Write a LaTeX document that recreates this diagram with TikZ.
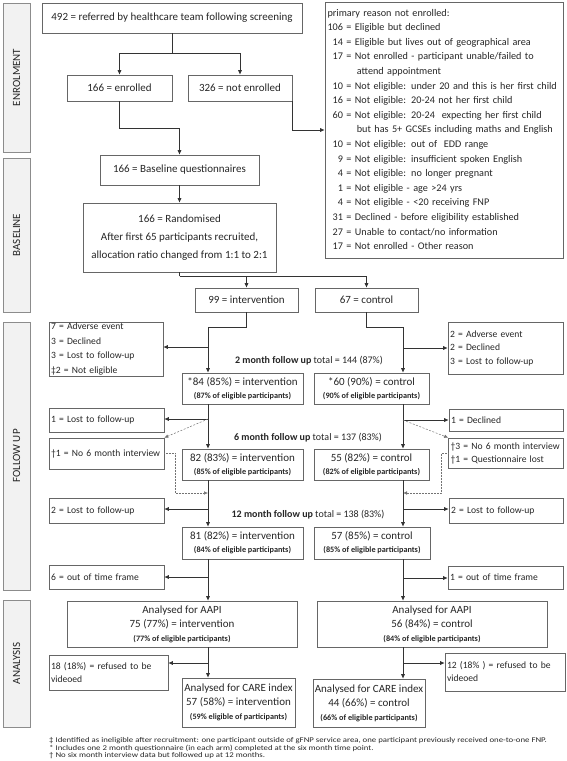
\documentclass[tikz,border=0pt]{standalone}
\usepackage{fontspec}
\setmainfont{Carlito}
\newfontfamily\notefont[FakeStretch=1.2]{Carlito}
\usetikzlibrary{arrows.meta}

\newcommand{\elig}[1]{{\fontsize{8.2}{9}\selectfont\bfseries #1}}

\begin{document}
\begin{tikzpicture}[
  x=1pt, y=-1pt,
  every node/.style = {font=\fontsize{11}{14.6}\selectfont, text=black!85, inner sep=2pt},
  box/.style = {draw=black!60, line width=0.6pt, align=center},
  lbox/.style = {box, align=left, inner xsep=2pt, inner ysep=1pt, font=\fontsize{9.6}{14}\selectfont},
  pair/.style = {box, font=\fontsize{11}{13}\selectfont},
  trio/.style = {box, font=\fontsize{11}{14}\selectfont},
  side/.style = {draw=black!45, fill=black!5, line width=0.6pt, rotate=90, minimum height=27, inner sep=0pt, font=\fontsize{11}{12}\selectfont},
  stage/.style = {font=\fontsize{10}{11}\selectfont},
  note/.style = {anchor=west, inner sep=0pt, font=\notefont\fontsize{7.3}{7.5}\selectfont},
  plain/.style = {draw=black!80, line width=0.6pt},
  link/.style = {plain, -{Latex[length=4.5pt,width=4pt]}},
  gone/.style = {draw=black!55, line width=0.5pt, dash pattern=on 2pt off 1.5pt, -{Latex[length=4pt,width=3.5pt]}},
  late/.style = {draw=black!55, line width=0.5pt, densely dotted, -{Latex[length=4pt,width=3.5pt]}}
]
  \useasboundingbox (0,0) rectangle (567,761);

  % stages
  \node[side, minimum width=149] (enrolS) at (16.5,77.5) {ENROLMENT};
  \node[side, minimum width=154] (baseS) at (16.5,235) {BASELINE};
  \node[side, minimum width=268] (fuS) at (16.5,456) {FOLLOW UP};
  \node[side, minimum width=127] (anS) at (16.5,663.5) {ANALYSIS};

  % enrolment
  \node[box, minimum width=260, minimum height=30] (refer) at (172,18) {492 = referred by healthcare team following screening};
  \node[box, minimum width=105, minimum height=26] (enrol) at (119.5,88) {166 = enrolled};
  \node[box, minimum width=104, minimum height=26] (notenrol) at (240,88) {326 = not enrolled};
  \node[box, align=left, font=\fontsize{10.2}{14.6}\selectfont, text width=233, minimum height=256, inner xsep=2.5pt] (reasons) at (444,130) {%
    \begin{tabular}{@{}r@{ }c@{ }l@{}}
      \multicolumn{3}{@{}l@{}}{primary reason not enrolled:}\\
      106 & = & Eligible but declined\\
      14 & = & Eligible but lives out of geographical area\\
      17 & = & Not enrolled - participant unable/failed to\\
         &   & \hspace{2pt}attend appointment\\
      10 & = & Not eligible: under 20 and this is her first child\\
      16 & = & Not eligible: 20-24 not her first child\\
      60 & = & Not eligible: 20-24 \ expecting her first child\\
         &   & \hspace{2pt}but has 5+ GCSEs including maths and English\\
      10 & = & Not eligible: out of \ EDD range\\
      9 & = & Not eligible: insufficient spoken English\\
      4 & = & Not eligible: no longer pregnant\\
      1 & = & Not eligible - age >24 yrs\\
      4 & = & Not eligible - <20 receiving FNP\\
      31 & = & Declined - before eligibility established\\
      27 & = & Unable to contact/no information\\
      17 & = & Not enrolled - Other reason
    \end{tabular}};

  % baseline
  \node[box, minimum width=159, minimum height=30] (baseline) at (179.5,170) {166 = Baseline questionnaires};
  \node[box, font=\fontsize{11}{18}\selectfont, minimum width=193, minimum height=69] (random) at (179.5,237.5) {166 = Randomised\\After first 65 participants recruited,\\allocation ratio changed from 1:1 to 2:1};
  \node[box, minimum width=103, minimum height=24] (interv) at (246.5,300) {99 = intervention};
  \node[box, minimum width=103, minimum height=24] (control) at (366.5,300) {67 = control};

  % follow up
  \node[lbox, font=\fontsize{9.6}{14.5}\selectfont, text width=110, minimum height=54] (fu2L) at (106,349) {7 = Adverse event\\3 = Declined\\3 = Lost to follow-up\\\textdaggerdbl 2 = Not eligible};
  \node[lbox, font=\fontsize{9.6}{13.5}\selectfont, text width=111, minimum height=52] (fu2R) at (505.5,348) {2 = Adverse event\\2 = Declined\\3 = Lost to follow-up};
  \node[stage] (m2) at (309,361) {\textbf{2 month follow up} total = 144 (87\%)};
  \node[pair, minimum width=121, minimum height=31] (int2) at (242.5,388.5) {*84 (85\%) = intervention\\\elig{(87\% of eligible participants)}};
  \node[pair, minimum width=115, minimum height=31] (con2) at (371.5,388.5) {*60 (90\%) = control\\\elig{(90\% of eligible participants)}};

  \node[lbox, text width=111, minimum height=24] (lost6L) at (106.5,420) {1 = Lost to follow-up};
  \node[lbox, text width=111, minimum height=31] (miss6L) at (106.5,453.5) {\textdagger 1 = No 6 month interview};
  \node[lbox, text width=110, minimum height=22] (dec6R) at (506,420) {1 = Declined};
  \node[lbox, font=\fontsize{9.6}{13}\selectfont, text width=111, minimum height=30] (miss6R) at (506,453) {\textdagger 3 = No 6 month interview\\\textdagger 1 = Questionnaire lost};
  \node[stage] (m6) at (308,438) {\textbf{6 month follow up} total = 137 (83\%)};
  \node[pair, minimum width=121, minimum height=31] (int6) at (242.5,464.5) {82 (83\%) = intervention\\\elig{(85\% of eligible participants)}};
  \node[pair, minimum width=115, minimum height=31] (con6) at (371.5,464.5) {55 (82\%) = control\\\elig{(82\% of eligible participants)}};

  \node[lbox, text width=111, minimum height=25] (lost12L) at (106.5,510.5) {2 = Lost to follow-up};
  \node[lbox, text width=110, minimum height=25] (lost12R) at (506,510.5) {2 = Lost to follow-up};
  \node[stage] (m12) at (308,515) {\textbf{12 month follow up} total = 138 (83\%)};
  \node[pair, minimum width=121, minimum height=32] (int12) at (242.5,543) {81 (82\%) = intervention\\\elig{(84\% of eligible participants)}};
  \node[pair, minimum width=116, minimum height=32] (con12) at (372,543) {57 (85\%) = control\\\elig{(85\% of eligible participants)}};

  \node[lbox, text width=111, minimum height=24] (timeL) at (106.5,577) {6 = out of time frame};
  \node[lbox, text width=111, minimum height=23] (timeR) at (505.5,577.5) {1 = out of time frame};

  % analysis
  \node[trio, minimum width=230, minimum height=46] (aapiI) at (182,624) {Analysed for AAPI\\75 (77\%) = intervention\\\elig{(77\% of eligible participants)}};
  \node[trio, minimum width=230, minimum height=46] (aapiC) at (432,624) {Analysed for AAPI\\56 (84\%) = control\\\elig{(84\% of eligible participants)}};
  \node[lbox, font=\fontsize{9.6}{13}\selectfont, text width=115, minimum height=35] (refI) at (108.5,672.5) {18 (18\%) = refused to be\\videoed};
  \node[lbox, font=\fontsize{9.6}{13}\selectfont, text width=116, minimum height=38] (refC) at (505,672) {12 (18\% ) = refused to be\\videoed};
  \node[trio, minimum width=113, minimum height=49] (careI) at (238.5,702.5) {Analysed for CARE index\\57 (58\%) = intervention\\\elig{(59\% eligible of participants)}};
  \node[trio, minimum width=112, minimum height=48] (careC) at (369,703) {Analysed for CARE index\\44 (66\%) = control\\\elig{(66\% of eligible participants)}};

  % footnotes
  \node[note] (n1) at (49,741) {\textdaggerdbl{} Identified as ineligible after recruitment: one participant outside of gFNP service area, one participant previously received one-to-one FNP.};
  \node[note] (n2) at (49,748.5) {* Includes one 2 month questionnaire (in each arm) completed at the six month time point.};
  \node[note] (n3) at (49,756) {\textdagger{} No six month interview data but followed up at 12 months.};

  % connectors
  \coordinate (iv) at (208,0);
  \coordinate (cv) at (403,0);
  \draw[plain] (refer.south) -- ++(0,20) coordinate (split);
  \draw[link] (split) -| (enrol.north);
  \draw[link] (split) -| (notenrol.north);
  \draw[link] (enrol.south) -- ++(0,27) -| (baseline.north);
  \draw[link] (notenrol.south east) |- (reasons.west);
  \draw[link] (baseline.south) -- (random.north);
  \draw[plain] (random.south) -- ++(0,4) coordinate (alloc);
  \draw[link] (alloc) -| (interv.north);
  \draw[link] (alloc) -| (control.north);

  % intervention arm
  \draw[link] (interv.south) -- ++(0,15) -| (iv |- int2.north);
  \draw[link] (iv |- 0,347) -- (fu2L.east |- 0,347);
  \draw[link] (iv |- int2.south) -- (iv |- int6.north);
  \draw[link] (iv |- 0,419) -- (lost6L.east |- 0,419);
  \draw[gone] (iv |- 0,419) -- (miss6L.north east);
  \draw[late] (miss6L.east) -- ++(11,0) |- (iv |- 0,493);
  \draw[link] (iv |- int6.south) -- (iv |- int12.north);
  \draw[link] (iv |- 0,509) -- (lost12L.east |- 0,509);
  \draw[link] (iv |- int12.south) -- (iv |- aapiI.north);
  \draw[link] (iv |- 0,577) -- (timeL.east |- 0,577);
  \draw[link] (iv |- aapiI.south) -- (iv |- careI.north);
  \draw[link] (iv |- 0,663) -- (refI.east |- 0,663);

  % control arm
  \draw[link] (control.south) -- ++(0,15) -| (cv |- con2.north);
  \draw[link] (cv |- 0,348) -- (fu2R.west |- 0,348);
  \draw[link] (cv |- con2.south) -- (cv |- con6.north);
  \draw[link] (cv |- 0,420) -- (dec6R.west |- 0,420);
  \draw[gone] (cv |- 0,420) -- (miss6R.north west);
  \draw[late] (miss6R.west |- 0,453) -- ++(-7,0) |- (cv |- 0,493);
  \draw[link] (cv |- con6.south) -- (cv |- con12.north);
  \draw[link] (cv |- 0,509) -- (lost12R.west |- 0,509);
  \draw[link] (cv |- con12.south) -- (cv |- aapiC.north);
  \draw[link] (cv |- 0,578) -- (timeR.west |- 0,578);
  \draw[link] (cv |- aapiC.south) -- (cv |- careC.north);
  \draw[link] (cv |- 0,663) -- (refC.west |- 0,663);
\end{tikzpicture}
\end{document}
